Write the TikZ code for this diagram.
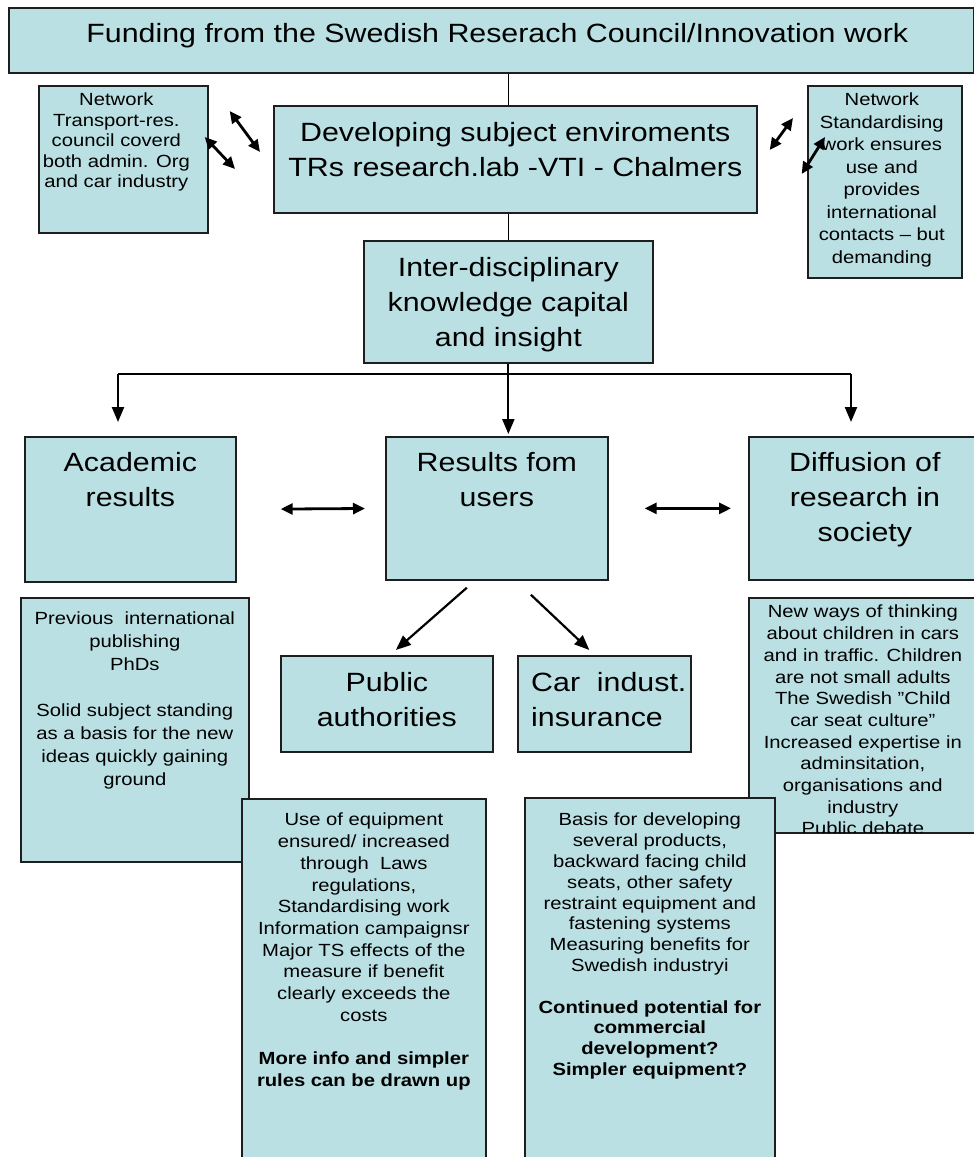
\documentclass[tikz,border=0pt]{standalone}
\usepackage{fontspec}
\setmainfont{Liberation Sans}[FakeStretch=1.15]
\usetikzlibrary{positioning,arrows.meta}
\definecolor{boxfill}{RGB}{186,224,227}
\definecolor{boxline}{RGB}{30,30,30}

\begin{document}
\begin{tikzpicture}[x=1pt, y=-1pt, >={Triangle[length=15pt,width=12pt]},
    box/.style={draw=boxline, fill=boxfill, line width=1.7pt, inner sep=0pt, anchor=north west},
    bigtext/.style={align=center, inner sep=0pt, font=\fontsize{26.4}{35}\selectfont},
    smalltext/.style={align=center, inner sep=0pt, font=\fontsize{17.6}{#1}\selectfont},
    smalltext/.default=21.5,
    link/.style={line width=1.2pt},
    arr/.style={->, line width=2.2pt},
    dbl/.style={<->, line width=2.8pt, >={Triangle[length=12pt,width=11pt]}}]

    \clip (0,0) rectangle (974,1157);

    % Funding and the subject environment
    \node[box, minimum width=965pt, minimum height=65pt] (fund) at (8,7) {};
    \node[bigtext, below=16pt of fund.north, xshift=6pt] (fundT) {Funding from the Swedish Reserach Council/Innovation work};

    \node[box, minimum width=169pt, minimum height=147pt] (netL) at (38,85) {};
    \node[smalltext=20.5, below=8pt of netL.north, xshift=-7pt] (netLT) {Network\\Transport-res.\\council coverd\\both admin. Org\\and car industry};

    \node[box, minimum width=483pt, minimum height=107pt] (dev) at (273,105) {};
    \node[bigtext, below=17pt of dev.north] (devT) {Developing subject enviroments\\TRs research.lab -VTI - Chalmers};

    \node[box, minimum width=154pt, minimum height=192pt] (netR) at (807,85) {};
    \node[smalltext=22.5, below=8pt of netR.north, xshift=-3pt] (netRT) {Network\\Standardising\\work ensures\\use and\\provides\\international\\contacts -- but\\demanding};

    \node[box, minimum width=289pt, minimum height=122pt] (inter) at (363,240) {};
    \node[bigtext, below=17pt of inter.north] (interT) {Inter-disciplinary\\knowledge capital\\and insight};

    % Three kinds of results
    \node[box, minimum width=211pt, minimum height=145pt] (acad) at (24,436) {};
    \node[bigtext, below=16pt of acad.north] (acadT) {Academic\\results};

    \node[box, minimum width=222pt, minimum height=143pt] (res) at (385,436) {};
    \node[bigtext, below=16pt of res.north] (resT) {Results fom\\users};

    \node[box, minimum width=232pt, minimum height=143pt] (diff) at (748,436) {};
    \node[bigtext, below=16pt of diff.north] (diffT) {Diffusion of\\research in\\society};

    % Lower text boxes
    \node[box, minimum width=228pt, minimum height=264pt] (prev) at (20,597) {};
    \node[smalltext=23, below=15pt of prev.north] (prevT) {Previous\ \ international\\publishing\\PhDs\\[23pt]Solid subject standing\\as a basis for the new\\ideas quickly gaining\\ground};

    \node[box, minimum width=212pt, minimum height=96pt] (pub) at (280,655) {};
    \node[bigtext, below=17pt of pub.north] (pubT) {Public\\authorities};

    \node[box, minimum width=173pt, minimum height=96pt] (car) at (517,655) {};
    \node[bigtext, align=left, anchor=north west] (carT) at ([xshift=14pt,yshift=-17pt]car.north west) {Car\ \ indust.\\insurance};

    \node[box, minimum width=228pt, minimum height=235pt] (soc) at (748,597) {};
    \begin{scope}
        \clip (748,597) rectangle (976,832);
        \node[smalltext=21.7, below=8pt of soc.north] (socT) {New ways of thinking\\about children in cars\\and in traffic. Children\\are not small adults\\The Swedish ”Child\\car seat culture”\\Increased expertise in\\adminsitation,\\organisations and\\industry\\Public debate};
    \end{scope}

    \node[box, minimum width=244pt, minimum height=380pt] (use) at (241,798) {};
    \node[smalltext=21.7, below=15pt of use.north] (useT) {Use of equipment\\ensured/ increased\\through\ \ Laws\\regulations,\\Standardising work\\Information campaignsr\\Major TS effects of the\\measure if benefit\\clearly exceeds the\\costs\\[21.7pt]\textbf{More info and simpler}\\\textbf{rules can be drawn up}};

    \node[box, minimum width=250pt, minimum height=380pt] (basis) at (524,797) {};
    \node[smalltext=20.8, below=16pt of basis.north] (basisT) {Basis for developing\\several products,\\backward facing child\\seats, other safety\\restraint equipment and\\fastening systems\\Measuring benefits for\\Swedish industryi\\[20.8pt]\textbf{Continued potential for}\\\textbf{commercial}\\\textbf{development?}\\\textbf{Simpler equipment?}};

    % Connecting lines
    \draw[link] (inter.north |- fund.south) -- (inter.north |- dev.north);
    \draw[link] (inter.north) -- (inter.north |- dev.south);

    \coordinate (bl) at (118,374);
    \coordinate (br) at (851,374);
    \draw[line width=2pt] (bl) -- (br);
    \draw[arr, shorten >=14pt] (bl) -- (bl |- acad.north);
    \draw[arr, shorten >=14pt] (br) -- (br |- diff.north);
    \draw[arr, shorten >=2pt] (inter.south) -- (inter.south |- res.north);

    \draw[dbl, shorten <=44pt, shorten >=20pt] (acad.east) -- (res.west);
    \draw[dbl, shorten <=36pt, shorten >=17pt] (res.east) -- (diff.west);

    \draw[arr] ([xshift=-30pt,yshift=-7pt]res.south) -- ([xshift=9pt,yshift=5pt]pub.north);
    \draw[arr] ([xshift=34pt,yshift=-14pt]res.south) -- ([xshift=-15pt,yshift=5pt]car.north);

    % Network arrows
    \draw[dbl] ([xshift=21pt,yshift=-26pt]netL.north east) -- ([xshift=-13pt,yshift=-47pt]dev.north west);
    \draw[dbl] ([xshift=-4pt,yshift=-52pt]netL.north east) -- ([xshift=-38pt,yshift=-64pt]dev.north west);
    \draw[dbl] ([xshift=12pt,yshift=-45pt]dev.north east) -- ([xshift=-14pt,yshift=-33pt]netR.north west);
    \draw[dbl] ([xshift=44pt,yshift=-69pt]dev.north east) -- ([xshift=18pt,yshift=-52pt]netR.north west);
\end{tikzpicture}
\end{document}
